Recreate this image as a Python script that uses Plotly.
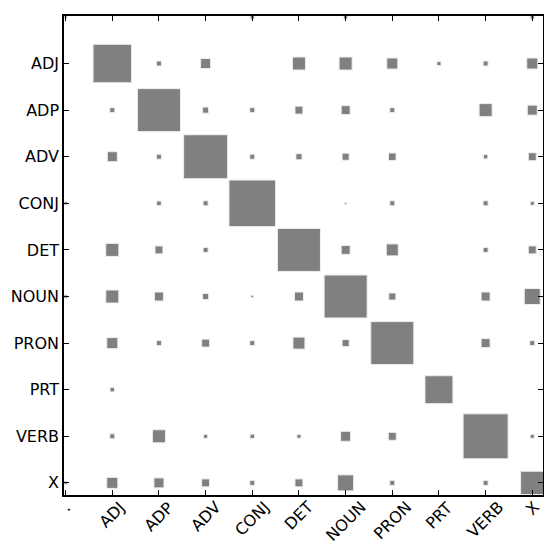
import numpy as np
import plotly.graph_objects as go

# Hinton diagram of a POS-tag confusion matrix (rows: gold tag, cols: predicted tag)
TAGS = [".", "ADJ", "ADP", "ADV", "CONJ", "DET", "NOUN", "PRON", "PRT", "VERB", "X"]

ROW_DOT = [0.004, 0, 0, 0, 0.008, 0, 0.008, 0, 0, 0, 0.008]
ROW_ADJ = [0, 0.68, 0.0115, 0.046, 0, 0.078, 0.078, 0.056, 0.008, 0.0115, 0.056]
ROW_ADP = [0, 0.0115, 0.85, 0.017, 0.0115, 0.029, 0.037, 0.0115, 0, 0.078, 0.046]
ROW_ADV = [0, 0.046, 0.0115, 0.89, 0.0115, 0.017, 0.023, 0.026, 0, 0.009, 0.029]
ROW_CONJ = [0.005, 0, 0.01, 0.0115, 1.0, 0, 0.002, 0.0115, 0, 0.0115, 0.0074]
ROW_DET = [0, 0.078, 0.029, 0.0115, 0, 0.85, 0.037, 0.066, 0, 0.0115, 0.029]
ROW_NOUN = [0.005, 0.078, 0.037, 0.017, 0.003, 0.037, 0.85, 0.023, 0, 0.037, 0.118]
ROW_PRON = [0, 0.056, 0.0115, 0.029, 0.0115, 0.066, 0.023, 0.85, 0, 0.037, 0.0115]
ROW_PRT = [0, 0.009, 0, 0, 0, 0, 0, 0, 0.36, 0, 0]
ROW_VERB = [0, 0.0115, 0.078, 0.0074, 0.009, 0.0074, 0.046, 0.029, 0, 0.93, 0.0074]
ROW_X = [0.005, 0.056, 0.046, 0.029, 0.0115, 0.029, 0.118, 0.0115, 0, 0.0115, 0.25]

matrix = np.array([ROW_DOT, ROW_ADJ, ROW_ADP, ROW_ADV, ROW_CONJ, ROW_DET,
                   ROW_NOUN, ROW_PRON, ROW_PRT, ROW_VERB, ROW_X])
max_weight = np.abs(matrix).max()

FONT = dict(family="DejaVu Sans", size=16, color="black")
idx = list(range(len(TAGS)))

fig = go.Figure()
# invisible trace so the axes are set up
fig.add_trace(go.Scatter(x=[0], y=[0], mode="markers",
                         marker=dict(opacity=0), hoverinfo="skip", showlegend=False))

for i, row in enumerate(matrix):
    for j, w in enumerate(row):
        if w <= 0:
            continue
        side = np.sqrt(abs(w) / max_weight)
        fig.add_shape(
            type="rect", xref="x", yref="y",
            x0=j - side / 2, x1=j + side / 2,
            y0=i - side / 2, y1=i + side / 2,
            fillcolor="#808080", line=dict(color="#eeeeee", width=1),
            opacity=1, layer="below",
        )

# rotated x labels, centred on the ticks like matplotlib's default
for j, tag in enumerate(TAGS):
    fig.add_annotation(x=j, y=0, xref="x", yref="paper", text=tag,
                       showarrow=False, textangle=-45, xanchor="center",
                       yanchor="top", yshift=0, font=FONT)

axis_common = dict(
    showline=True, linecolor="black", linewidth=1.5, mirror="ticks",
    ticks="inside", ticklen=5, tickcolor="black", tickwidth=1,
    showgrid=False, zeroline=False, automargin=False,
    tickvals=idx,
)

fig.update_xaxes(range=[-0.035, 10.23], showticklabels=False, **axis_common)
fig.update_yaxes(range=[10.26, -0.02], ticktext=TAGS, tickfont=FONT,
                 ticklabelstandoff=0, **axis_common)

# the page body adds an 8px margin, so the figure is 8px smaller than the window
fig.update_layout(
    template="simple_white",
    width=544, height=546,
    margin=dict(l=56, r=9, t=8, b=59),
    paper_bgcolor="white", plot_bgcolor="white",
    showlegend=False,
)

fig.write_html("out.html")
